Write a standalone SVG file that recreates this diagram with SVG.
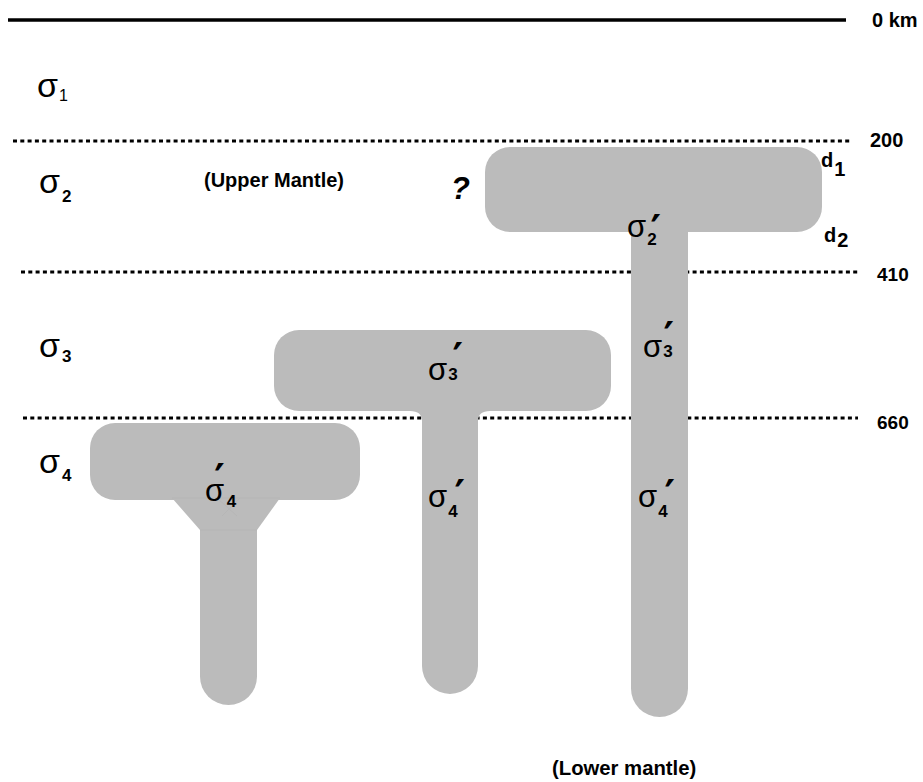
<svg xmlns="http://www.w3.org/2000/svg" width="923" height="782" viewBox="0 0 923 782">
  <style>
    .lbl { font-family: "Liberation Sans", Arial, sans-serif; font-weight: bold; fill: #000; }
    .sig { font-family: "Liberation Sans", Arial, sans-serif; fill: #000; }
    .sub { font-size: 17px; font-weight: bold; }
    .pr { font-family: "DejaVu Sans", sans-serif; font-size: 40px; font-weight: bold; }
    .body { fill: #bbbbbb; }
    .dot { stroke: #000; stroke-width: 3; stroke-dasharray: 4 3.3; fill: none; }
  </style>

  <!-- depth horizons -->
  <g id="horizons">
    <line x1="8" y1="20" x2="846" y2="20" stroke="#000" stroke-width="3.5"/>
    <line class="dot" x1="13" y1="141" x2="852" y2="141"/>
    <line class="dot" x1="21" y1="272" x2="858" y2="272"/>
    <line class="dot" x1="23" y1="418" x2="858" y2="418"/>
  </g>

  <!-- right plume: head at 200-410 km, stem into lower mantle -->
  <g id="plume-right">
    <rect class="body" x="485" y="147" width="337" height="85" rx="25"/>
    <path class="body" d="M631,225 V688.5 A28.5,28.5 0 0 0 688,688.5 V225 Z"/>
  </g>

  <!-- middle plume: head at 410-660 km -->
  <g id="plume-middle">
    <rect class="body" x="274" y="330" width="337" height="81" rx="25"/>
    <path class="body" d="M410,405 H490 V411 Q478,411 478,421 V666 A28,28 0 0 1 422,666 V421 Q422,411 410,411 Z"/>
  </g>

  <!-- left plume: head below 660 km -->
  <g id="plume-left">
    <rect class="body" x="90" y="423" width="270" height="77" rx="25"/>
    <polygon class="body" points="172,498 280,498 257,530 200,530"/>
    <path class="body" d="M200,525 V676.5 A28.5,28.5 0 0 0 257,676.5 V525 Z"/>
    <path d="M172,498 H280 M217,498 L237,516 M240,498 L222,516 M200,530 H257" stroke="#b3b3b3" stroke-width="0.6" fill="none"/>
  </g>

  <!-- depth labels -->
  <g id="depths">
    <text class="lbl" x="872" y="27" font-size="20">0 km</text>
    <text class="lbl" x="870" y="147" font-size="20">200</text>
    <text class="lbl" x="877" y="281" font-size="19">410</text>
    <text class="lbl" x="877" y="429" font-size="19">660</text>
  </g>

  <!-- layer stresses -->
  <g id="layer-sigmas">
    <text class="sig" x="37" y="97" font-size="34">σ<tspan font-size="16" dx="1" dy="4">1</tspan></text>
    <text class="sig" x="39" y="193" font-size="34">σ<tspan class="sub" dx="2" dy="9">2</tspan></text>
    <text class="sig" x="39" y="357" font-size="34">σ<tspan class="sub" dx="2" dy="5">3</tspan></text>
    <text class="sig" x="39" y="473" font-size="34">σ<tspan class="sub" dx="2" dy="8">4</tspan></text>
  </g>

  <!-- plume stresses: sigma, subscript, prime -->
  <g id="plume-sigmas">
    <text class="sig" x="627" y="237" font-size="31">σ<tspan class="sub" dx="1" dy="8">2</tspan><tspan class="pr" dx="-6" dy="-1">′</tspan></text>
    <text class="sig" x="428" y="380" font-size="31">σ<tspan class="sub" dx="1">3</tspan><tspan class="pr" dx="-5" dy="-8">′</tspan></text>
    <text class="sig" x="643" y="357" font-size="31">σ<tspan class="sub" dx="1">3</tspan><tspan class="pr" dx="-9" dy="-6">′</tspan></text>
    <text class="sig" x="205" y="501" font-size="31">σ<tspan class="pr" dx="-10" dy="-8">′</tspan><tspan class="sub" dx="2" dy="14">4</tspan></text>
    <text class="sig" x="428" y="507" font-size="31">σ<tspan class="sub" dx="1" dy="10">4</tspan><tspan class="pr" dx="-3" dy="-8">′</tspan></text>
    <text class="sig" x="638" y="507" font-size="31">σ<tspan class="sub" dx="1" dy="10">4</tspan><tspan class="pr" dx="-3" dy="-8">′</tspan></text>
  </g>

  <!-- annotations -->
  <g id="notes">
    <text class="lbl" x="204" y="187" font-size="20">(Upper Mantle)</text>
    <text class="lbl" x="451" y="199" font-size="31" font-style="italic">?</text>
    <text class="lbl" x="821" y="167" font-size="20">d<tspan dx="1" dy="9">1</tspan></text>
    <text class="lbl" x="824" y="242" font-size="20">d<tspan dx="1" dy="5">2</tspan></text>
    <text class="lbl" x="552" y="775" font-size="20.3">(Lower mantle)</text>
  </g>
</svg>
